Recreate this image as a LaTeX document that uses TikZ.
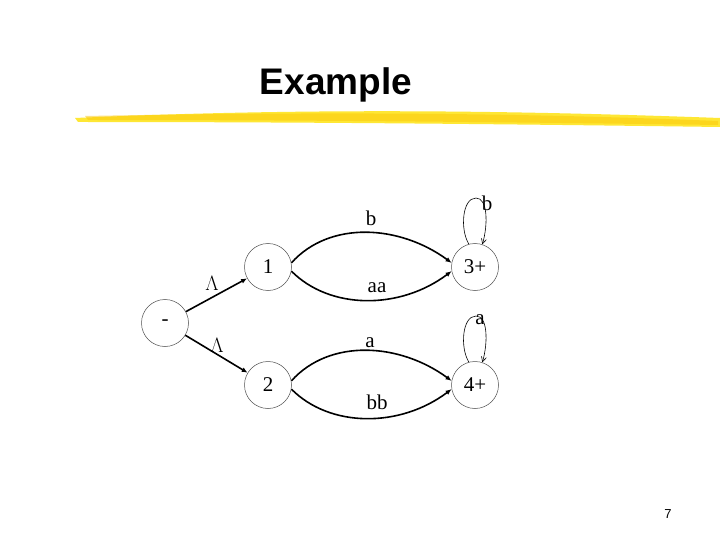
\documentclass[tikz,border=0pt]{standalone}
\usepackage{fontspec}
\setmainfont{Liberation Serif}
\newfontfamily\titlefont{Liberation Sans}
\usetikzlibrary{arrows.meta}
\begin{document}
\begin{tikzpicture}[x=1pt,y=-1pt,
  st/.style={circle,draw=black!70,line width=0.5pt,minimum size=47pt,inner sep=0pt,font=\fontsize{21}{21}\selectfont},
  tr/.style={line width=1.6pt,-{Latex[length=6pt,width=5pt]}},
  lp/.style={line width=0.6pt,-{Straight Barb[length=5pt,width=5pt]}},
  lb/.style={font=\fontsize{21}{21}\selectfont}]
\useasboundingbox (0,0) rectangle (720,540);
\fill[white] (0,0) rectangle (720,540);
% highlighter
\fill[yellow!85!orange,opacity=0.8] (75,118) .. controls (300,108) and (500,110) .. (720,118) -- (720,127) .. controls (500,124) and (300,122) .. (78,122) -- cycle;
\fill[yellow!60!orange,opacity=0.5] (85,116) .. controls (300,112) and (500,112) .. (718,121) -- (718,125) .. controls (500,122) and (300,120) .. (88,120) -- cycle;
\node[font=\titlefont\bfseries\fontsize{37}{37}\selectfont] (title) at (336,85) {Example};
\node (s) [st] at (165,323) {-};
\node (n1) [st] at (268,267) {1};
\node (n2) [st] at (268,385) {2};
\node (n3) [st] at (475,267) {3+};
\node (n4) [st] at (475,385) {4+};
\draw[tr] (s) -- (n1);
\draw[tr] (s) -- (n2);
\draw[tr] (n1.10) .. controls (330,220) and (400,225) .. (n3.170);
\draw[tr] (n1.-10) .. controls (330,310) and (400,310) .. (n3.-170);
\draw[tr] (n2.10) .. controls (330,338) and (400,343) .. (n4.170);
\draw[tr] (n2.-10) .. controls (330,428) and (400,428) .. (n4.-170);
\draw[lp] (n3.105) .. controls (460,230) and (462,198) .. (476,198) .. controls (488,198) and (488,225) .. (n3.72);
\draw[lp] (n4.105) .. controls (460,348) and (462,316) .. (476,316) .. controls (488,316) and (488,343) .. (n4.72);
\node[lb] (lb1) at (371,218) {b};
\node[lb] (lb2) at (377,288) {aa};
\node[lb] (lb3) at (370,343) {a};
\node[lb] (lb4) at (377,402) {bb};
\node[lb] (lb5) at (212,283) {$\Lambda$};
\node[lb] (lb6) at (217,345) {$\Lambda$};
\node[lb] (lb7) at (487,203) {b};
\node[lb] (lb8) at (480,320) {a};
\node[font=\titlefont\fontsize{13}{13}\selectfont] (pg) at (668,514) {7};
\end{tikzpicture}
\end{document}
